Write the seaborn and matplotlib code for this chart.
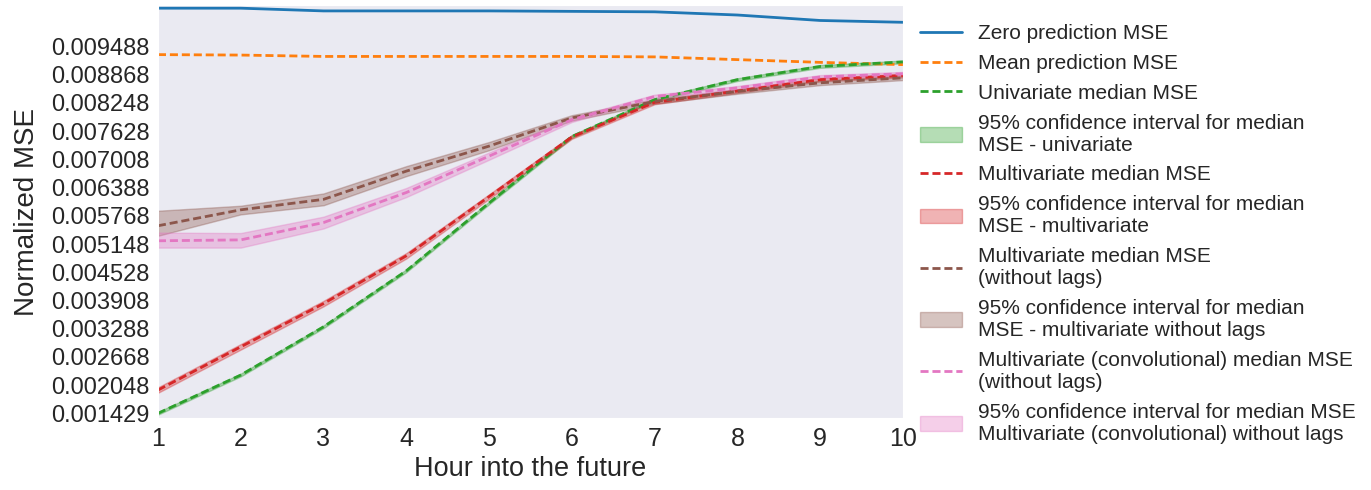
import numpy as np
import pandas as pd
import matplotlib
matplotlib.use("Agg")
import matplotlib.pyplot as plt
import seaborn as sns

# Forecast horizon (hours ahead)
hours = [1, 2, 3, 4, 5, 6, 7, 8, 9, 10]

# Baselines
zero_mse = [0.01033, 0.01033, 0.01027, 0.01027, 0.01027, 0.01026, 0.01025, 0.01018, 0.01006, 0.01002]
mean_mse = [0.00931, 0.00930, 0.00927, 0.00927, 0.00927, 0.00927, 0.00926, 0.00920, 0.00914, 0.00909]

# Univariate model: median MSE and 95% CI
uni_med = [0.001429, 0.00227, 0.00333, 0.00456, 0.00605, 0.00751, 0.00832, 0.00876, 0.00905, 0.00915]
uni_lo = [0.001400, 0.00224, 0.00330, 0.00453, 0.00602, 0.00748, 0.00829, 0.00873, 0.00902, 0.00912]
uni_hi = [0.001460, 0.00230, 0.00336, 0.00459, 0.00608, 0.00754, 0.00835, 0.00879, 0.00908, 0.00918]

# Multivariate model
multi_med = [0.00194, 0.00289, 0.00384, 0.00489, 0.00619, 0.00750, 0.00826, 0.00851, 0.00876, 0.00885]
multi_lo = [0.00188, 0.00283, 0.00378, 0.00483, 0.00614, 0.00746, 0.00822, 0.00847, 0.00872, 0.00881]
multi_hi = [0.00200, 0.00295, 0.00390, 0.00495, 0.00624, 0.00754, 0.00830, 0.00855, 0.00880, 0.00889]

# Multivariate model without lags
nolag_med = [0.00555, 0.00590, 0.00613, 0.00675, 0.00730, 0.00792, 0.00828, 0.00850, 0.00869, 0.00880]
nolag_lo = [0.00533, 0.00580, 0.00600, 0.00664, 0.00721, 0.00786, 0.00823, 0.00845, 0.00864, 0.00875]
nolag_hi = [0.00588, 0.00599, 0.00626, 0.00686, 0.00739, 0.00798, 0.00833, 0.00855, 0.00874, 0.00885]

# Convolutional multivariate model without lags
conv_med = [0.00522, 0.00524, 0.00562, 0.00628, 0.00708, 0.00788, 0.00839, 0.00858, 0.00882, 0.00889]
conv_lo = [0.00507, 0.00507, 0.00549, 0.00618, 0.00700, 0.00783, 0.00835, 0.00854, 0.00878, 0.00885]
conv_hi = [0.00540, 0.00539, 0.00575, 0.00638, 0.00716, 0.00793, 0.00843, 0.00862, 0.00886, 0.00893]

ytick_values = [0.001429, 0.002048, 0.002668, 0.003288, 0.003908, 0.004528, 0.005148,
                0.005768, 0.006388, 0.007008, 0.007628, 0.008248, 0.008868, 0.009488]

labels = {
    "zero": "Zero prediction MSE",
    "mean": "Mean prediction MSE",
    "uni": "Univariate median MSE",
    "uni_ci": "95% confidence interval for median\nMSE - univariate",
    "multi": "Multivariate median MSE",
    "multi_ci": "95% confidence interval for median\nMSE - multivariate",
    "nolag": "Multivariate median MSE\n(without lags)",
    "nolag_ci": "95% confidence interval for median\nMSE - multivariate without lags",
    "conv": "Multivariate (convolutional) median MSE\n(without lags)",
    "conv_ci": "95% confidence interval for median MSE\nMultivariate (convolutional) without lags",
}

sns.set_style("dark")
plt.rcParams["font.family"] = ["Liberation Sans", "DejaVu Sans"]

pal = sns.color_palette("tab10")
blue, orange, green, red, brown, pink = pal[0], pal[1], pal[2], pal[3], pal[5], pal[6]

fig = plt.figure(figsize=(13.71, 4.9), dpi=100)
ax = fig.add_axes([0.1152, 0.1463, 0.5434, 0.8435])

handles = []
names = []
dash = (2.9, 1.4)


def add_line(y, color, key, dashed=True):
    sns.lineplot(x=hours, y=y, ax=ax, color=color, lw=2, legend=False)
    line = ax.lines[-1]
    if dashed:
        line.set_dashes(dash)
    handles.append(line)
    names.append(labels[key])


def add_band(lo, hi, color, key):
    poly = ax.fill_between(hours, lo, hi, color=color, alpha=0.35, lw=1)
    handles.append(poly)
    names.append(labels[key])


add_line(zero_mse, blue, "zero", dashed=False)
add_line(mean_mse, orange, "mean")
add_line(uni_med, green, "uni")
add_band(uni_lo, uni_hi, green, "uni_ci")
add_line(multi_med, red, "multi")
add_band(multi_lo, multi_hi, red, "multi_ci")
add_line(nolag_med, brown, "nolag")
add_band(nolag_lo, nolag_hi, brown, "nolag_ci")
add_line(conv_med, pink, "conv")
add_band(conv_lo, conv_hi, pink, "conv_ci")

ax.set_xlim(1, 10)
ax.set_ylim(0.00132, 0.01040)
ax.set_xticks(hours)
ax.set_xticklabels([str(h) for h in hours])
ax.set_yticks(ytick_values)
ax.set_yticklabels([f"{v:.6f}" for v in ytick_values])
ax.tick_params(axis="y", labelsize=17, pad=6, length=0, colors="#262626")
ax.tick_params(axis="x", labelsize=18, pad=6, length=0, colors="#262626")
ax.set_xlabel("Hour into the future", fontsize=19.5, labelpad=4, color="#262626")
ax.set_ylabel("Normalized MSE", fontsize=20, labelpad=8, color="#262626")

ax.legend(handles, names, loc="upper left", bbox_to_anchor=(0.665, 0.968),
          bbox_transform=fig.transFigure, frameon=False, fontsize=15,
          borderaxespad=0, labelspacing=0.52, handlelength=2.0, handletextpad=0.8)

fig.savefig("out.png", dpi=100)
